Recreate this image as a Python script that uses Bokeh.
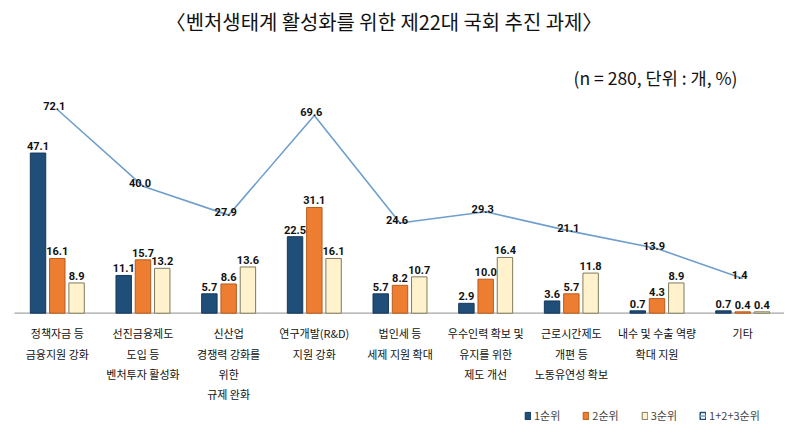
from bokeh.plotting import figure
from bokeh.models import Range1d, Label, Legend, LegendItem, ColumnDataSource
from bokeh.core.properties import value
from bokeh.transform import dodge
from bokeh.embed import file_html
from bokeh.resources import INLINE

# ---------------- data ----------------
categories = [
    "정책자금 등\n금융지원 강화",
    "선진금융제도\n도입 등\n벤처투자 활성화",
    "신산업\n경쟁력 강화를\n위한\n규제 완화",
    "연구개발(R&D)\n지원 강화",
    "법인세 등\n세제 지원 확대",
    "우수인력 확보 및\n유지를 위한\n제도 개선",
    "근로시간제도\n개편 등\n노동유연성 확보",
    "내수 및 수출 역량\n확대 지원",
    "기타",
]
rank1 = [47.1, 11.1, 5.7, 22.5, 5.7, 2.9, 3.6, 0.7, 0.7]
rank2 = [16.1, 15.7, 8.6, 31.1, 8.2, 10.0, 5.7, 4.3, 0.4]
rank3 = [8.9, 13.2, 13.6, 16.1, 10.7, 16.4, 11.8, 8.9, 0.4]
total = [72.1, 40.0, 27.9, 69.6, 24.6, 29.3, 21.1, 13.9, 1.4]
series_names = ["1순위", "2순위", "3순위", "1+2+3순위"]
title_text = "〈벤처생태계 활성화를 위한 제22대 국회 추진 과제〉"
subtitle_text = "(n = 280, 단위 : 개, %)"

# ---------------- styles ----------------
KR = "Noto Sans CJK KR"
NUM = "Liberation Sans Narrow, Roboto, sans-serif"
C1, C2, C3 = "#1f4e79", "#ed7d31", "#fff2cc"
L1, L2, L3 = "#16385a", "#b85b1c", "#7f7a5c"
LINE_C = "#6f9fcc"

n = len(categories)
xs = list(range(1, n + 1))
src = ColumnDataSource(dict(
    x=xs, r1=rank1, r2=rank2, r3=rank3, tot=total, cat=categories,
    zero=[0] * n,
    r1s=[f"{v:.1f}" for v in rank1],
    r2s=[f"{v:.1f}" for v in rank2],
    r3s=[f"{v:.1f}" for v in rank3],
    tots=[f"{v:.1f}" for v in total],
))

# whole figure is the plotting frame (784 x 423)
p = figure(width=784, height=423, output_backend="svg", toolbar_location=None,
           x_range=Range1d(0.337, 9.488), y_range=Range1d(-32.44, 91.97),
           x_axis_location=None, y_axis_location=None,
           min_border=0, outline_line_color=None,
           background_fill_color="white", border_fill_color="white")
p.grid.visible = False
p.extra_y_ranges = {"line": Range1d(-59.29, 117.70)}

# category axis line
p.segment(x0=[0.5], x1=[n + 0.5], y0=[0], y1=[0],
          line_color="#a6a6a6", line_width=1.2)

OFF = 0.225
W = 0.18
b1 = p.vbar(x=dodge("x", -OFF), top="r1", width=W, source=src,
            fill_color=C1, line_color=L1, line_width=1)
b2 = p.vbar(x=dodge("x", 0), top="r2", width=W, source=src,
            fill_color=C2, line_color=L2, line_width=1)
b3 = p.vbar(x=dodge("x", OFF), top="r3", width=W, source=src,
            fill_color=C3, line_color=L3, line_width=1)

for off, col, lab in [(-OFF, "r1", "r1s"), (0, "r2", "r2s"), (OFF, "r3", "r3s")]:
    p.text(x=dodge("x", off), y=col, text=lab, source=src,
           text_align="center", text_baseline="bottom", y_offset=-3,
           text_font=value(NUM), text_font_size="11px",
           text_font_style="bold", text_color="#111111")

ln = p.line(x="x", y="tot", source=src, y_range_name="line",
            line_color=LINE_C, line_width=1.6)
p.text(x="x", y="tot", text="tots", source=src, y_range_name="line",
       text_align="center", text_baseline="middle", x_offset=-3, y_offset=-3,
       text_font=value(NUM), text_font_size="11px", text_font_style="bold",
       text_color="#111111")

# category labels (multi-line) under the axis
p.text(x="x", y="zero", text="cat", source=src,
       text_align="center", text_baseline="top", y_offset=12,
       text_font=value(KR), text_font_size="11px", text_line_height=1.27,
       text_color="#111111")

# legend
nan = float("nan")
dummy = p.vbar(x=[nan], top=[nan], width=0.1, fill_color="white",
               line_color=C1, line_width=1.5)
legend = Legend(items=[
    LegendItem(label=series_names[0], renderers=[b1]),
    LegendItem(label=series_names[1], renderers=[b2]),
    LegendItem(label=series_names[2], renderers=[b3]),
    LegendItem(label=series_names[3], renderers=[dummy, ln]),
], location=(524, 0), orientation="horizontal", border_line_color=None,
    background_fill_alpha=0, padding=0, margin=0, spacing=22,
    glyph_width=7, glyph_height=9, label_standoff=3,
    label_text_font=KR, label_text_font_size="11px", label_height=12)
p.add_layout(legend, "center")

# titles
p.add_layout(Label(x=383.5, y=402, x_units="screen", y_units="screen",
                   text=title_text, text_align="center", text_baseline="middle",
                   text_font=KR, text_font_size="19.9px", text_color="#111111"))
p.add_layout(Label(x=655, y=346, x_units="screen", y_units="screen",
                   text=subtitle_text, text_align="center", text_baseline="middle",
                   text_font=KR, text_font_size="17.5px", text_color="#111111"))

open("out.html", "w").write(file_html(p, INLINE))
